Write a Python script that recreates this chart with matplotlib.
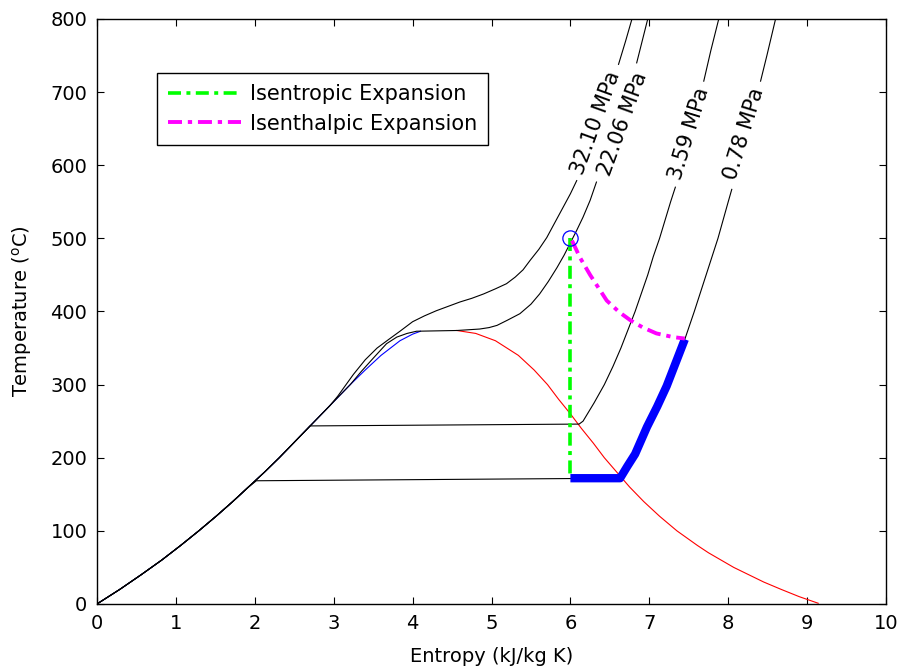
import numpy as np
import matplotlib
matplotlib.use("Agg")
import matplotlib.pyplot as plt

plt.rcParams['font.family'] = ['DejaVu Sans']

# saturation dome
s_liq = [0.0, 0.29, 0.56, 0.82, 1.06, 1.29, 1.51, 1.72, 1.92, 2.12, 2.31, 2.49,
         2.67, 2.85, 3.03, 3.21, 3.40, 3.60, 3.84, 4.00, 4.10]
T_liq = [0, 20, 40, 60, 80, 100, 120, 140, 160, 180, 200, 220,
         240, 260, 280, 300, 320, 340, 360, 369, 373]
s_vap = [4.56, 4.80, 5.05, 5.34, 5.54, 5.71, 5.85, 6.00, 6.14, 6.29, 6.43, 6.59,
         6.75, 6.93, 7.13, 7.35, 7.48, 7.61, 7.75, 7.91, 8.07, 8.26, 8.45, 8.67,
         8.90, 9.14]
T_vap = [374, 370, 360, 340, 320, 300, 280, 260, 240, 220, 200, 180,
         160, 140, 120, 100, 90, 80, 70, 60, 50, 40, 30, 20, 10, 1]

# isobars
s_p32 = s_liq[:14] + [2.95, 3.05, 3.15, 3.25, 3.40, 3.55, 3.70, 3.84, 4.00, 4.15,
                      4.30, 4.45, 4.60, 4.75, 4.90, 5.05, 5.19, 5.30, 5.40, 5.49,
                      5.60, 5.70, 5.80, 5.91, 6.00, 6.08, 6.61, 6.70, 6.78]
T_p32 = T_liq[:14] + [271, 284, 299, 314, 334, 350, 362, 373, 386, 394,
                      401, 407, 413, 418, 424, 431, 438, 447, 457, 470,
                      485, 501, 521, 543, 561, 579, 738, 770, 800]
s_p22 = s_liq[:16] + [3.35, 3.50, 3.67, 3.80, 3.93, 4.05, 4.56, 4.85, 4.97,
                      5.07, 5.20, 5.36, 5.50, 5.61, 5.72, 5.83, 5.92, 6.00,
                      6.08, 6.16, 6.25, 6.33, 6.84, 6.91, 6.98]
T_p22 = T_liq[:16] + [318, 336, 356, 365, 370, 373, 374, 376, 378,
                      381, 388, 397, 410, 424, 441, 460, 477, 494,
                      511, 529, 552, 577, 740, 770, 800]
s_p359 = s_liq[:13] + [2.70, 6.11, 6.16, 6.30, 6.43, 6.54, 6.64, 6.73, 6.82,
                       6.90, 6.98, 7.05, 7.13, 7.27, 7.33, 7.69, 7.78, 7.88]
T_p359 = T_liq[:13] + [243.5, 246, 250, 275, 300, 325, 350, 375, 400,
                       425, 450, 475, 500, 550, 570, 715, 757, 800]
s_p078 = s_liq[:9] + [2.02, 6.63, 6.72, 6.82, 6.97, 7.10, 7.22, 7.45, 7.57,
                      7.72, 7.87, 8.00, 8.045, 8.41, 8.49, 8.60]
T_p078 = T_liq[:9] + [168.5, 172, 188, 205, 242, 270, 298, 362, 400,
                      450, 500, 550, 567, 715, 750, 800]

labels = ['32.10 MPa', '22.06 MPa', '3.59 MPa', '0.78 MPa']
label_s = [6.32, 6.67, 7.50, 8.20]
label_T = [658, 656, 643, 643]
label_rot = [70, 70, 73, 73]
gap_T = [738, 740, 715, 715]   # curve resumes above the label

# expansion paths
state_s, state_T = 6.0, 500
s_isentropic = [6.0, 6.0]
T_isentropic = [500, 172]
s_isenthalpic = [6.02, 6.12, 6.25, 6.46, 6.62, 6.76, 6.92, 7.09, 7.30, 7.45]
T_isenthalpic = [497, 474, 450, 415, 399, 388, 378, 370, 365, 363]
s_thick = [6.0, 6.63, 6.72, 6.82, 6.97, 7.10, 7.22, 7.45]
T_thick = [172, 172, 188, 205, 242, 270, 298, 362]

fig = plt.figure(figsize=(9.03, 6.69), dpi=100)
ax = fig.add_axes([0.1074, 0.0972, 0.8738, 0.8744])

ax.plot(s_liq, T_liq, color='b', lw=0.8)
ax.plot(s_vap, T_vap, color='r', lw=0.8)

iso = [(s_p32, T_p32), (s_p22, T_p22), (s_p359, T_p359), (s_p078, T_p078)]
for (s, T), g in zip(iso, gap_T):
    s = np.array(s, dtype=float)
    T = np.array(T, dtype=float)
    k = int(np.argmax(T >= g))
    s = np.insert(s, k, np.nan)
    T = np.insert(T, k, np.nan)
    ax.plot(s, T, color='k', lw=0.8)

for txt, x, y, r in zip(labels, label_s, label_T, label_rot):
    ax.text(x, y, txt, rotation=r, rotation_mode='anchor', ha='center',
            va='center', fontsize=15)

ax.plot(s_thick, T_thick, color='b', lw=6, solid_capstyle='butt')
l1, = ax.plot(s_isentropic, T_isentropic, color=(0, 1, 0), lw=2.6,
              dashes=(3.6, 1.5, 1.1, 1.5), label='Isentropic Expansion')
l2, = ax.plot(s_isenthalpic, T_isenthalpic, color=(1, 0, 1), lw=2.8,
              dashes=(3.6, 1.5, 1.1, 1.5), label='Isenthalpic Expansion')
ax.plot([state_s], [state_T], 'o', mfc='none', mec='b', ms=11, mew=0.9)

ax.set_xlim(0, 10)
ax.set_ylim(0, 800)
ax.set_xticks(range(0, 11))
ax.set_yticks(range(0, 801, 100))
ax.tick_params(direction='in', length=5, width=0.8, top=True, right=True,
               labelsize=14, pad=7)
for sp in ax.spines.values():
    sp.set_linewidth(1.0)
ax.set_xlabel('Entropy (kJ/kg K)', fontsize=14, labelpad=10)
ax.set_ylabel('Temperature ($^{\\rm o}$C)', fontsize=14, labelpad=12)

leg = ax.legend(handles=[l1, l2], loc='upper left',
                bbox_to_anchor=(0.076, 0.908), borderaxespad=0,
                fontsize=15, handlelength=3.5, handletextpad=0.4,
                fancybox=False, framealpha=1, edgecolor='k',
                borderpad=0.55, labelspacing=0.45)
leg.get_frame().set_linewidth(1.0)

fig.savefig('out.png', dpi=100)
